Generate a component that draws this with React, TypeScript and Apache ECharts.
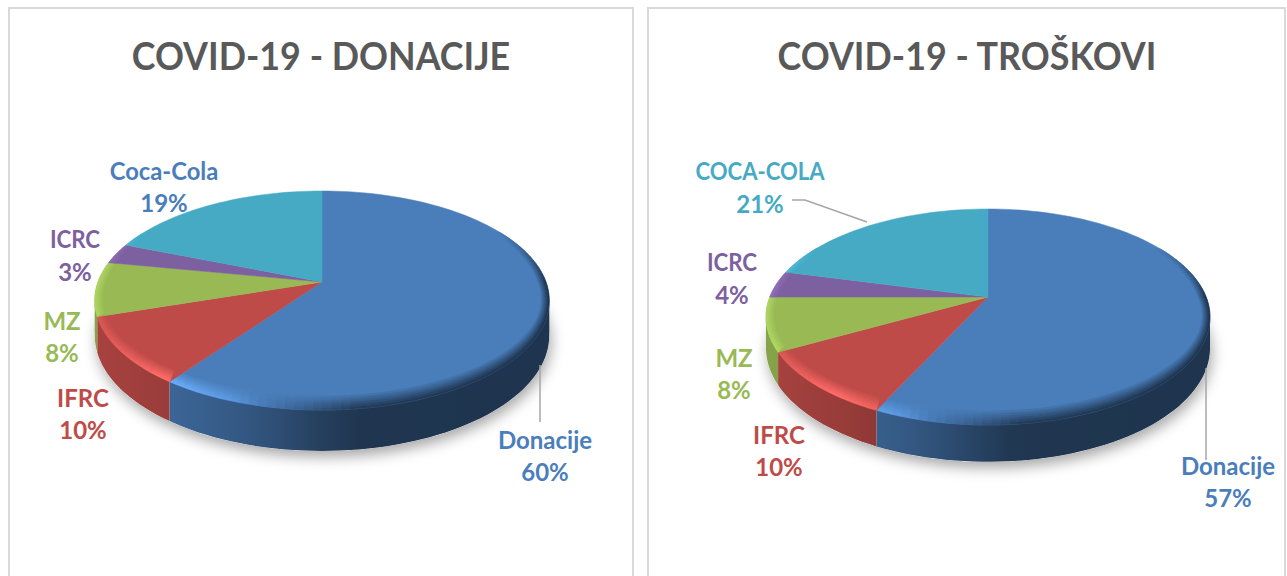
import React, { useEffect, useRef } from "react";
import * as echarts from "echarts";

const categoriesLeft = ["Donacije", "IFRC", "MZ", "ICRC", "Coca-Cola"];
const valuesLeft = [60, 10, 8, 3, 19];
const categoriesRight = ["Donacije", "IFRC", "MZ", "ICRC", "COCA-COLA"];
const valuesRight = [57, 10, 8, 4, 21];
const titleLeft = "COVID-19 - DONACIJE";
const titleRight = "COVID-19 - TROŠKOVI";

const faceColors = ["#4a7ebb", "#be4b48", "#98b954", "#7d60a0", "#46aac5"];
const labelColorsLeft = ["#4a7ebb", "#be4b48", "#98b954", "#7d60a0", "#4a7ebb"];
const labelColorsRight = ["#4a7ebb", "#be4b48", "#98b954", "#7d60a0", "#46aac5"];
const labelPosLeft = [[545, 455], [83, 413], [62, 336], [75, 255], [164, 186]];
const labelPosRight = [[1228, 481], [779, 450], [734, 373], [732, 278], [760, 187]];
const nameScaleLeft = [1, 1, 1, 0.93, 0.99];
const nameScaleRight = [1, 1, 1, 0.93, 0.92];
const leadersLeft: number[][][] = [[[540, 365], [540, 422]]];
const leadersRight: number[][][] = [
  [[1206, 368], [1206, 460]],
  [[792, 200], [805, 200], [867, 222]],
];
const geoLeft = { cx: 322, cy: 282, A: 224, B: 106.4, k: 0.169, D: 34 };
const geoRight = { cx: 988, cy: 297, A: 218.2, B: 104.3, k: 0.185, D: 30 };

const FONT = "Lato, Carlito, 'Open Sans', sans-serif";
const STEP = Math.PI / 90;
const BEVEL_X = 8;
const BEVEL_Y = 14;
const BANDS = [0, 0.17, 0.34, 0.5, 0.67, 0.84, 1];

const wallCurve = [[-1, 0.88], [-0.66, 0.8], [-0.3, 0.68], [0, 0.5], [0.12, 0.43], [1, 0.42]];
const bevelCurve = [[-1, 1.12], [-0.7, 1.3], [-0.4, 1.15], [-0.1, 0.78], [0.15, 0.48], [1, 0.42]];

function curve(c: number[][], t: number) {
  if (t <= c[0][0]) return c[0][1];
  for (let i = 1; i < c.length; i++) {
    if (t <= c[i][0]) {
      const r = (t - c[i - 1][0]) / (c[i][0] - c[i - 1][0]);
      return c[i - 1][1] + (c[i][1] - c[i - 1][1]) * r;
    }
  }
  return c[c.length - 1][1];
}
function shade(hex: string, f: number) {
  const n = parseInt(hex.slice(1), 16);
  const ch = [(n >> 16) & 255, (n >> 8) & 255, n & 255].map((v) =>
    Math.min(255, Math.round(f > 1 ? v * f + (f - 1) * 40 : v * f))
  );
  return `rgb(${ch[0]},${ch[1]},${ch[2]})`;
}

type Geo = typeof geoLeft;
function rim(g: Geo, th: number) {
  const u = Math.sin(th);
  const v = -Math.cos(th);
  const w = 1 - g.k * v;
  return { x: g.cx + (g.A * u) / w, y: g.cy + (g.B * v) / w, u, v, w };
}
function inner(g: Geo, th: number, f: number) {
  const p = rim(g, th);
  const dy = p.v > 0 ? BEVEL_Y * p.v : -p.v;
  return [p.x - BEVEL_X * p.u * (1 - f), p.y - dy * (1 - f)];
}

function makeSeries(
  g: Geo,
  names: string[],
  values: number[],
  colors: string[],
  pos: number[][],
  nameScale: number[],
  leaders: number[][][]
) {
  const total = values.reduce((a, b) => a + b, 0);
  const data = values.map((v, i) => {
    const before = values.slice(0, i).reduce((a, b) => a + b, 0);
    return [i, before / total, (before + v) / total];
  });
  return {
    type: "custom",
    coordinateSystem: "none",
    silent: true,
    data,
    renderItem: (_p: any, api: any) => {
      const i = api.value(0);
      const a0 = api.value(1) * Math.PI * 2;
      const a1 = api.value(2) * Math.PI * 2;
      const face = faceColors[i];
      const children: any[] = [];
      const angles: number[] = [];
      const n = Math.max(2, Math.ceil((a1 - a0) / STEP));
      for (let j = 0; j <= n; j++) angles.push(a0 + ((a1 - a0) * j) / n);

      if (i === 0) {
        const sil: number[][] = [];
        for (let t = 0; t < Math.PI * 2; t += STEP * 2) {
          const p = rim(g, t);
          sil.push([p.x, p.y + g.D / p.w]);
        }
        children.push({
          type: "polygon",
          shape: { points: sil },
          style: {
            fill: "#ffffff",
            shadowColor: "rgba(0,0,0,0.35)",
            shadowBlur: 14,
            shadowOffsetX: 2,
            shadowOffsetY: 6,
          },
        });
      }
      const top: number[][] = [];
      const bottom: number[][] = [];
      for (let j = 0; j <= n; j++) {
        const p = rim(g, angles[j]);
        const prev = rim(g, angles[j] - 0.001);
        const next = rim(g, angles[j] + 0.001);
        if (next.x < p.x || prev.x > p.x) {
          top.push([p.x, p.y - 1]);
          bottom.unshift([p.x, p.y + g.D / p.w]);
        }
      }
      if (top.length > 1) {
        const xs = top.map((q) => q[0]);
        const x0 = Math.min(...xs);
        const x1 = Math.max(...xs);
        const colorStops = [];
        for (let s = 0; s <= 10; s++) {
          const x = x0 + ((x1 - x0) * s) / 10;
          colorStops.push({ offset: s / 10, color: shade(face, curve(wallCurve, (x - g.cx) / g.A)) });
        }
        children.push({
          type: "polygon",
          shape: { points: top.concat(bottom) },
          style: { fill: { type: "linear", x: x0, y: 0, x2: x1, y2: 0, global: true, colorStops } },
        });
      }
      const pts: number[][] = [[g.cx, g.cy]];
      angles.forEach((th) => pts.push(inner(g, th, 1)));
      children.push({
        type: "polygon",
        shape: { points: pts },
        style: { fill: face, stroke: face, lineWidth: 0.5 },
      });
      for (let j = 0; j < n; j++) {
        const mid = (angles[j] + angles[j + 1]) / 2;
        const m = rim(g, mid);
        const strength = Math.max(0, Math.min(1, (m.v + 0.5) / 0.5));
        if (strength <= 0) continue;
        const t = (m.x - g.cx) / g.A;
        const bf = 1 + (curve(bevelCurve, t) - 1) * strength;
        for (let b = 0; b < BANDS.length - 1; b++) {
          const f0 = BANDS[b];
          const f1 = BANDS[b + 1];
          const fill = shade(face, 1 + (bf - 1) * f1);
          children.push({
            type: "polygon",
            shape: {
              points: [
                inner(g, angles[j], f0),
                inner(g, angles[j + 1], f0),
                inner(g, angles[j + 1], f1),
                inner(g, angles[j], f1),
              ],
            },
            style: { fill, stroke: fill, lineWidth: 0.5 },
          });
        }
      }
      if (i === values.length - 1) {
        leaders.forEach((pl) =>
          children.push({
            type: "polyline",
            shape: { points: pl },
            style: { fill: "none", stroke: "#a6a6a6", lineWidth: 1.5 },
          })
        );
        values.forEach((v, k) => {
          const base = {
            align: "center",
            verticalAlign: "middle",
            fill: colors[k],
            font: `bold 24px ${FONT}`,
            x: 0,
            y: 0,
          };
          children.push({
            type: "text",
            x: pos[k][0],
            y: pos[k][1] - 16,
            scaleX: nameScale[k],
            style: { ...base, text: names[k] },
          });
          children.push({
            type: "text",
            x: pos[k][0],
            y: pos[k][1] + 16,
            style: { ...base, text: `${v}%` },
          });
        });
      }
      return { type: "group", children };
    },
  };
}

function titleText(text: string, x: number) {
  return {
    type: "text",
    x,
    y: 55,
    scaleX: 0.92,
    style: {
      text,
      x: 0,
      y: 0,
      align: "center",
      verticalAlign: "middle",
      fill: "#595959",
      font: `bold 39px ${FONT}`,
    },
  };
}

export default function App() {
  const ref = useRef<HTMLDivElement>(null);
  useEffect(() => {
    const chart = echarts.init(ref.current!, undefined, { renderer: "svg" });
    chart.setOption({
      animation: false,
      backgroundColor: "#ffffff",
      graphic: [
        { type: "rect", shape: { x: 9, y: 8, width: 624, height: 600 }, style: { fill: "none", stroke: "#d9d9d9", lineWidth: 2 } },
        { type: "rect", shape: { x: 648, y: 8, width: 637, height: 600 }, style: { fill: "none", stroke: "#d9d9d9", lineWidth: 2 } },
        titleText(titleLeft, 321),
        titleText(titleRight, 967),
      ],
      series: [
        makeSeries(geoLeft, categoriesLeft, valuesLeft, labelColorsLeft, labelPosLeft, nameScaleLeft, leadersLeft),
        makeSeries(geoRight, categoriesRight, valuesRight, labelColorsRight, labelPosRight, nameScaleRight, leadersRight),
      ],
    });
    return () => chart.dispose();
  }, []);
  return <div ref={ref} style={{ position: "fixed", left: 0, top: 0, width: 1287, height: 576 }} />;
}
